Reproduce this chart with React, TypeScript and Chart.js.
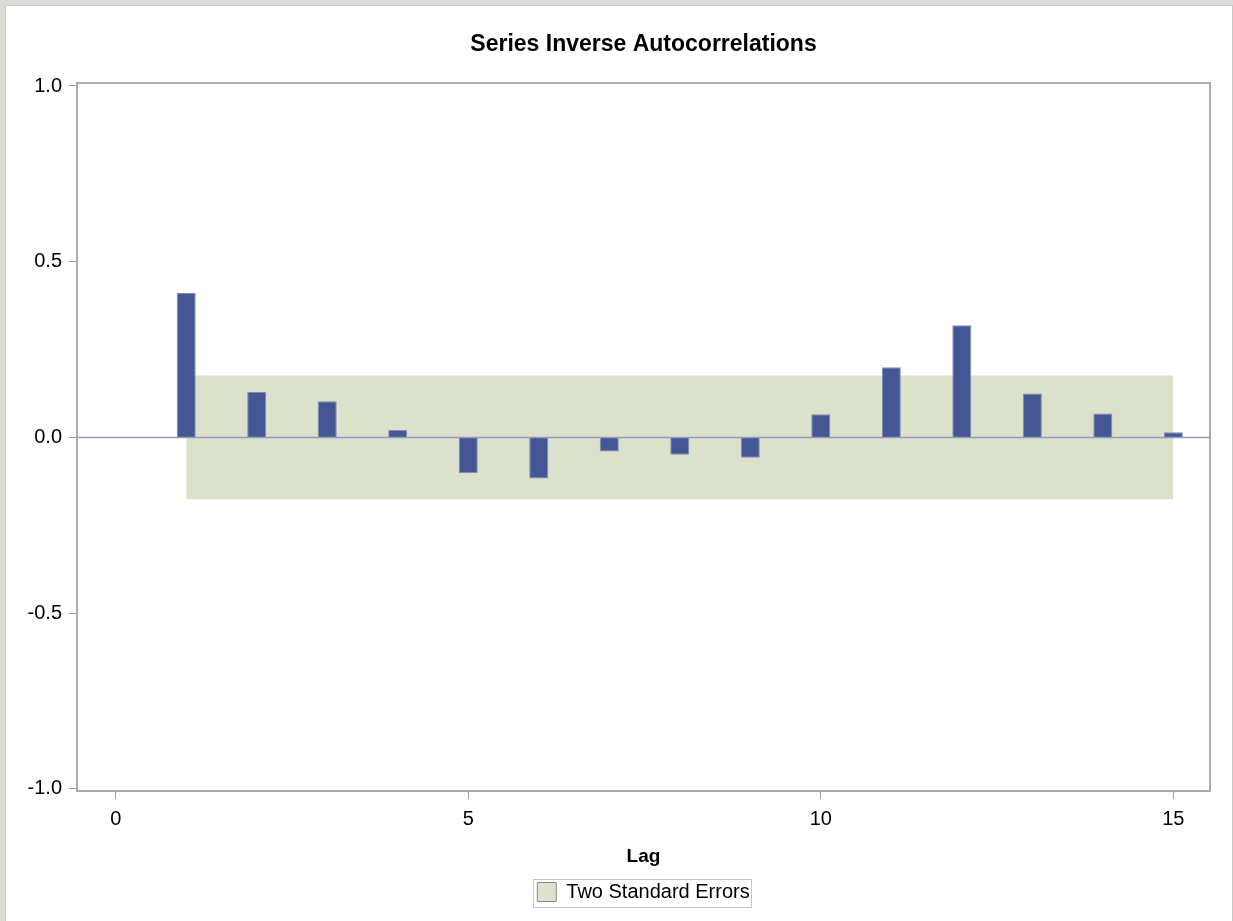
import React, { useEffect, useRef } from "react";
import { Chart, registerables } from "chart.js";

Chart.register(...registerables);

// ---- data ----
const lags = [1, 2, 3, 4, 5, 6, 7, 8, 9, 10, 11, 12, 13, 14, 15];
const inverseAutocorr = [
  0.411, 0.129, 0.103, 0.021, -0.102, -0.117, -0.04, -0.049, -0.058, 0.066,
  0.2, 0.319, 0.125, 0.068, 0.015,
];
const upperBand = [
  0.176, 0.176, 0.176, 0.176, 0.176, 0.176, 0.176, 0.176, 0.176, 0.176,
  0.176, 0.176, 0.176, 0.176, 0.176,
];
const lowerBand = [
  -0.176, -0.176, -0.176, -0.176, -0.176, -0.176, -0.176, -0.176, -0.176,
  -0.176, -0.176, -0.176, -0.176, -0.176, -0.176,
];
const xTickValues = [0, 5, 10, 15];
const yTickValues = [-1, -0.5, 0, 0.5, 1];
const chartTitle = "Series Inverse Autocorrelations";
const xAxisTitle = "Lag";
const bandLabel = "Two Standard Errors";

// ---- styles ----
const FONT = "'Liberation Sans', Arial, Helvetica, sans-serif";
const BAR_COLOR = "#445694";
const BAR_EDGE = "#7f8bb8";
const BAND_COLOR = "#dbe1cb";
const AXIS_GRAY = "#9a9a9a";

const frameAndZeroPlugin = {
  id: "frameAndZero",
  afterDatasetsDraw(chart: any) {
    const { ctx, chartArea: a, scales } = chart;
    const y0 = scales.y.getPixelForValue(0);
    ctx.save();
    ctx.strokeStyle = "#939cc0";
    ctx.lineWidth = 1.5;
    ctx.beginPath();
    ctx.moveTo(a.left, y0);
    ctx.lineTo(a.right, y0);
    ctx.stroke();
    ctx.strokeStyle = "#ababab";
    ctx.lineWidth = 2;
    ctx.strokeRect(a.left, a.top, a.right - a.left, a.bottom - a.top);
    ctx.restore();
  },
};

const legendFramePlugin = {
  id: "legendFrame",
  afterDraw(chart: any) {
    const lg = chart.legend;
    if (!lg || !lg.legendHitBoxes || !lg.legendHitBoxes.length) return;
    const hb = lg.legendHitBoxes[0];
    const { ctx } = chart;
    ctx.save();
    ctx.strokeStyle = "#c8c8c8";
    ctx.lineWidth = 1;
    ctx.strokeRect(
      Math.round(hb.left - 4) + 0.5,
      Math.round(hb.top - 3) + 0.5,
      Math.round(hb.width + 6),
      Math.round(hb.height + 8)
    );
    ctx.restore();
  },
};

export default function App() {
  const ref = useRef<HTMLCanvasElement>(null);

  useEffect(() => {
    document.body.style.margin = "0";
    document.body.style.background = "#dadbd4";
    document.body.style.overflow = "hidden";
    if (!ref.current) return;

    const chart = new Chart(ref.current, {
      type: "bar",
      data: {
        datasets: [
          {
            type: "bar",
            label: "Inverse Autocorrelation",
            data: lags.map((l, i) => ({ x: l, y: inverseAutocorr[i] })),
            backgroundColor: BAR_COLOR,
            borderColor: BAR_EDGE,
            borderWidth: 1,
            barPercentage: 0.27,
            categoryPercentage: 1,
          } as any,
          {
            type: "line",
            label: bandLabel,
            data: lags.map((l, i) => ({ x: l, y: upperBand[i] })),
            backgroundColor: BAND_COLOR,
            borderColor: "rgba(0,0,0,0)",
            borderWidth: 0,
            pointRadius: 0,
            fill: "+1",
          } as any,
          {
            type: "line",
            label: "lower",
            data: lags.map((l, i) => ({ x: l, y: lowerBand[i] })),
            backgroundColor: BAND_COLOR,
            borderColor: "rgba(0,0,0,0)",
            borderWidth: 0,
            pointRadius: 0,
            fill: false,
          } as any,
        ],
      },
      options: {
        responsive: false,
        animation: false,
        events: [],
        layout: { padding: { left: 0, right: 0, top: 0, bottom: 9 } },
        plugins: {
          filler: { drawTime: "beforeDatasetsDraw" } as any,
          tooltip: { enabled: false },
          title: {
            display: true,
            text: chartTitle,
            color: "#000",
            font: { family: FONT, size: 23, weight: "bold" },
            padding: { top: 24.7, bottom: 24.7 },
          },
          legend: {
            display: true,
            position: "bottom",
            labels: {
              color: "#000",
              font: { family: FONT, size: 20 },
              boxWidth: 19,
              boxHeight: 19,
              padding: 6,
              generateLabels: (c: any) =>
                Chart.defaults.plugins.legend.labels
                  .generateLabels(c)
                  .filter((it: any) => it.datasetIndex === 1)
                  .map((it: any) => ({
                    ...it,
                    fillStyle: BAND_COLOR,
                    strokeStyle: "#8e8e8e",
                    lineWidth: 1,
                  })),
            },
          },
        },
        scales: {
          x: {
            type: "linear",
            position: "bottom",
            min: -0.549,
            max: 15.52,
            offset: false,
            afterBuildTicks: (s: any) => {
              s.ticks = xTickValues.map((v) => ({ value: v }));
            },
            ticks: {
              color: "#000",
              font: { family: FONT, size: 20 },
              padding: 8,
              maxRotation: 0,
              callback: (v: any) => String(v),
            },
            grid: {
              display: true,
              drawOnChartArea: false,
              drawTicks: true,
              tickLength: 8,
              color: AXIS_GRAY,
              lineWidth: 1,
              offset: false,
            },
            border: { display: false },
            title: {
              display: true,
              text: xAxisTitle,
              color: "#000",
              font: { family: FONT, size: 19, weight: "bold" },
              padding: { top: 6.5, bottom: 7.7 },
            },
          },
          y: {
            type: "linear",
            position: "left",
            min: -1.006,
            max: 1.0085,
            afterBuildTicks: (s: any) => {
              s.ticks = yTickValues.map((v) => ({ value: v }));
            },
            afterFit: (s: any) => {
              s.width = 71;
            },
            ticks: {
              color: "#000",
              font: { family: FONT, size: 20 },
              padding: 7,
              callback: (v: any) => Number(v).toFixed(1),
            },
            grid: {
              display: true,
              drawOnChartArea: false,
              drawTicks: true,
              tickLength: 8,
              color: AXIS_GRAY,
              lineWidth: 1,
            },
            border: { display: false },
          },
          yPad: {
            type: "linear",
            position: "right",
            display: true,
            ticks: { display: false },
            grid: { display: false },
            border: { display: false },
            afterFit: (s: any) => {
              s.width = 71;
            },
          },
        },
      } as any,
      plugins: [frameAndZeroPlugin, legendFramePlugin],
    });

    return () => chart.destroy();
  }, []);

  return (
    <div
      style={{
        position: "absolute",
        left: 5,
        top: 5,
        width: 1226,
        height: 915,
        background: "#ffffff",
        borderTop: "1px solid #c9cac4",
        borderLeft: "1px solid #c9cac4",
        borderRight: "1px solid #c9cac4",
        overflow: "hidden",
      }}
    >
      <canvas
        ref={ref}
        width={1275}
        height={915}
        style={{ display: "block", width: 1275, height: 915 }}
      />
    </div>
  );
}
